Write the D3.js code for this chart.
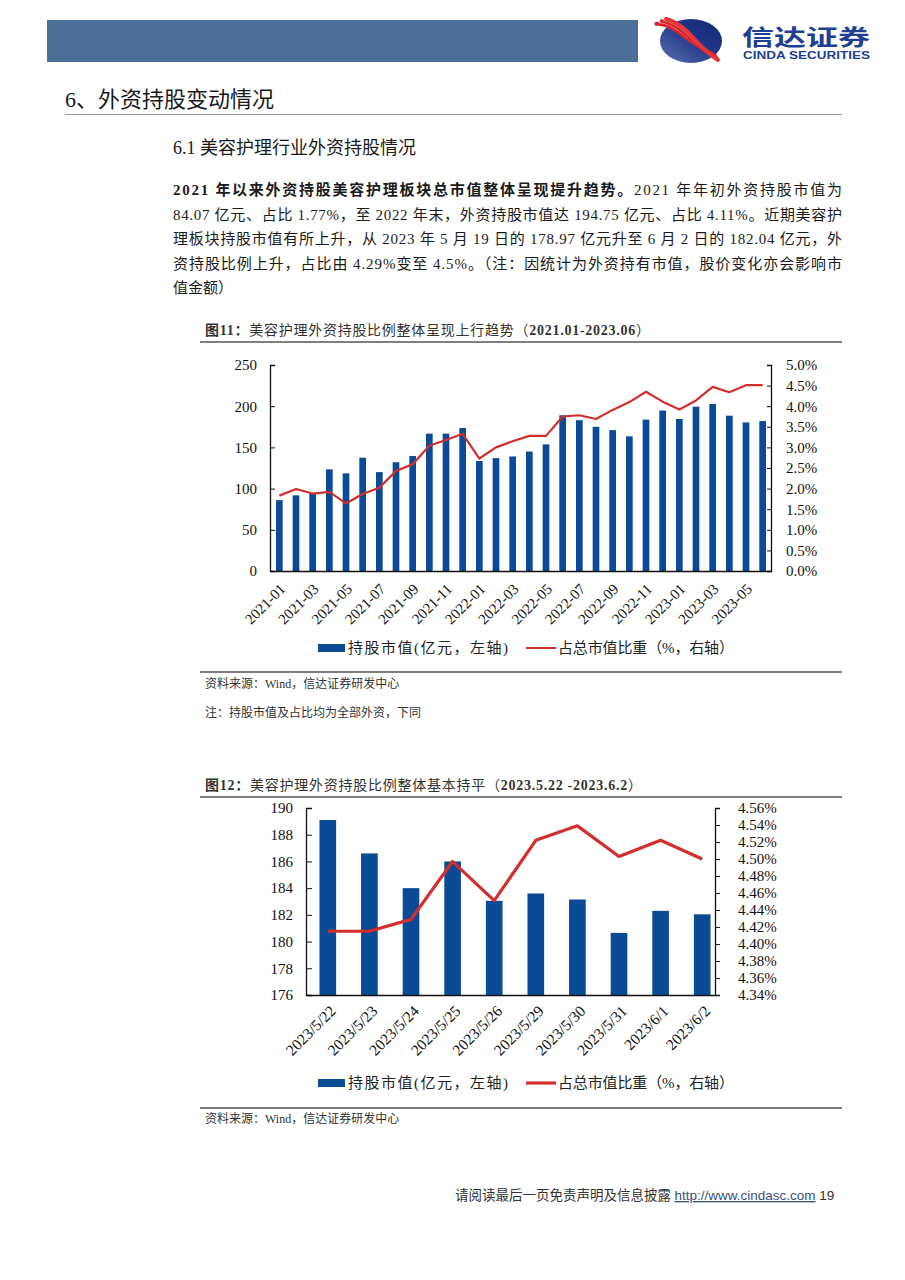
<!DOCTYPE html>
<html><head><meta charset="utf-8">
<script src="https://cdn.jsdelivr.net/npm/d3@7"></script>
<style>
html,body{margin:0;padding:0;background:#fff;}
svg{display:block;}
</style></head>
<body>
<svg id="page" width="905" height="1280"></svg>
<script>
// ---------- DATA ----------
const months = ["2021-01","2021-02","2021-03","2021-04","2021-05","2021-06","2021-07","2021-08","2021-09","2021-10","2021-11","2021-12",
"2022-01","2022-02","2022-03","2022-04","2022-05","2022-06","2022-07","2022-08","2022-09","2022-10","2022-11","2022-12",
"2023-01","2023-02","2023-03","2023-04","2023-05","2023-06"];
const holdValue1 = [86,91.8,94,123.4,118.5,137.5,120,132,139.6,166.7,166.7,173.5,133.5,137,139,145,153.7,189,183,175,171,163.4,183.7,194.75,184.5,199.4,202.7,188.5,180.4,182];
const holdShare1 = [1.83,1.99,1.88,1.92,1.64,1.87,2.02,2.43,2.59,3.04,3.18,3.33,2.73,3.00,3.15,3.28,3.28,3.75,3.78,3.69,3.91,4.10,4.35,4.11,3.92,4.14,4.47,4.34,4.51,4.51];
const leftTicks1 = [0,50,100,150,200,250];
const rightTicks1 = [0,0.5,1,1.5,2,2.5,3,3.5,4,4.5,5];

const days = ["2023/5/22","2023/5/23","2023/5/24","2023/5/25","2023/5/26","2023/5/29","2023/5/30","2023/5/31","2023/6/1","2023/6/2"];
const holdValue2 = [189.1,186.6,184.0,186.0,183.05,183.6,183.15,180.65,182.3,182.04];
const holdShare2 = [4.415,4.415,4.429,4.497,4.451,4.522,4.539,4.503,4.522,4.500];
const leftTicks2 = [176,178,180,182,184,186,188,190];
const rightTicks2 = [4.34,4.36,4.38,4.40,4.42,4.44,4.46,4.48,4.50,4.52,4.54,4.56];

const legendLabels = ["持股市值(亿元，左轴)","占总市值比重（%，右轴）"];

// ---------- STYLE ----------
const BLUE = "#0b4a94", RED = "#d22f2c";
const FONT = "'Liberation Serif','Noto Sans CJK SC',serif";
const svg = d3.select("#page");

// ---------- HEADER ----------
svg.append("rect").attr("x",47).attr("y",20).attr("width",591).attr("height",42).attr("fill","#4b6f98");
const defs = svg.append("defs");
const g1 = defs.append("linearGradient").attr("id","lg").attr("x1","0").attr("y1","1").attr("x2","1").attr("y2","0");
g1.append("stop").attr("offset","0").attr("stop-color","#5a6fb0");
g1.append("stop").attr("offset","0.6").attr("stop-color","#1d3486");
g1.append("stop").attr("offset","1").attr("stop-color","#142a6e");
svg.append("ellipse").attr("cx",691).attr("cy",41).attr("rx",31).attr("ry",22).attr("fill","url(#lg)");
const rib = svg.append("g");
[[-6,"#d8232a"],[-1,"#fff"],[3,"#d8232a"],[7,"#fff"],[10,"#e2363a"]].forEach(([o,c])=>{
  rib.append("path")
    .attr("d",`M${660+o*0.6},${22-o*0.3} C${680+o},${24+o*0.2} ${690+o*0.6},${44+o*0.3} ${716+o*0.2},${57+o*0.3}`)
    .attr("fill","none").attr("stroke",c).attr("stroke-width", c==="#fff"?1.6:4).attr("stroke-linecap","round");
});
svg.append("text").attr("x",742).attr("y",45).attr("font-family","'Noto Sans CJK SC',sans-serif").attr("font-weight",700)
  .attr("font-size",22).attr("fill","#1f3f93").attr("textLength",128).attr("lengthAdjust","spacingAndGlyphs").text("信达证券");
svg.append("text").attr("x",743).attr("y",59).attr("font-family","'Liberation Sans',Arial,sans-serif").attr("font-weight",700)
  .attr("font-size",10.5).attr("fill","#1f3f93").attr("textLength",127).attr("lengthAdjust","spacingAndGlyphs").text("CINDA SECURITIES");

// ---------- HEADINGS & PARAGRAPH ----------
svg.append("text").attr("x",65).attr("y",107).attr("font-family",FONT).attr("font-size",22).attr("fill","#1a1a1a").text("6、外资持股变动情况");
svg.append("line").attr("x1",65).attr("x2",842).attr("y1",114.5).attr("y2",114.5).attr("stroke","#9a9a9a").attr("stroke-width",1);
svg.append("text").attr("x",173).attr("y",154).attr("font-family",FONT).attr("font-size",18).attr("fill","#1a1a1a").text("6.1 美容护理行业外资持股情况");

const para = [
  [["2021 年以来外资持股美容护理板块总市值整体呈现提升趋势。",true],["2021 年年初外资持股市值为",false]],
  [["84.07 亿元、占比 1.77%，至 2022 年末，外资持股市值达 194.75 亿元、占比 4.11%。近期美容护",false]],
  [["理板块持股市值有所上升，从 2023 年 5 月 19 日的 178.97 亿元升至 6 月 2 日的 182.04 亿元，外",false]],
  [["资持股比例上升，占比由 4.29%变至 4.5%。（注：因统计为外资持有市值，股价变化亦会影响市",false]],
  [["值金额）",false]]
];
para.forEach((ln,i)=>{
  const t = svg.append("text").attr("x",173).attr("y",195+i*24.6).attr("font-family",FONT).attr("font-size",15).attr("fill","#1a1a1a");
  if(i<4) t.attr("textLength",669).attr("lengthAdjust","spacing");
  ln.forEach(([s,b])=>t.append("tspan").attr("font-weight",b?700:400).text(s));
});

// ---------- helpers ----------
function title(y, parts, len){
  const t = svg.append("text").attr("x",205).attr("y",y).attr("font-family",FONT).attr("font-size",14).attr("fill","#333")
    .attr("textLength",len).attr("lengthAdjust","spacing");
  parts.forEach(([s,b])=>t.append("tspan").attr("font-weight",b?700:400).text(s));
}
function hline(y,w){ svg.append("line").attr("x1",200).attr("x2",842).attr("y1",y).attr("y2",y).attr("stroke","#555").attr("stroke-width",w||1.3); }
function small(y,s){ svg.append("text").attr("x",205).attr("y",y).attr("font-family",FONT).attr("font-size",12).attr("fill","#333").text(s); }
function legend(y, lw){
  svg.append("rect").attr("x",318).attr("y",y-4).attr("width",27).attr("height",8).attr("fill",BLUE);
  svg.append("text").attr("x",348).attr("y",y+5).attr("font-family",FONT).attr("font-size",15).attr("fill","#222")
    .attr("textLength",160).attr("lengthAdjust","spacing").text(legendLabels[0]);
  svg.append("line").attr("x1",526).attr("x2",556).attr("y1",y).attr("y2",y).attr("stroke",RED).attr("stroke-width",lw);
  svg.append("text").attr("x",558).attr("y",y+5).attr("font-family",FONT).attr("font-size",15).attr("fill","#222")
    .attr("textLength",176).attr("lengthAdjust","spacing").text(legendLabels[1]);
}

// ---------- CHART 1 ----------
title(335,[["图11：",true],["美容护理外资持股比例整体呈现上行趋势（",false],["2021.01-2023.06",true],["）",false]],445);
hline(342);
{
  const x = d3.scaleBand().domain(months).range([271,771]).paddingInner(0.6).paddingOuter(0.3);
  const yL = d3.scaleLinear().domain([0,250]).range([571,365]);
  const yR = d3.scaleLinear().domain([0,5]).range([571,365]);
  const g = svg.append("g");
  g.selectAll("rect.b").data(holdValue1).join("rect")
    .attr("x",(d,i)=>x(months[i])).attr("width",x.bandwidth())
    .attr("y",d=>yL(d)).attr("height",d=>571-yL(d)).attr("fill",BLUE);
  g.append("path").datum(holdShare1)
    .attr("d",d3.line().x((d,i)=>x(months[i])+x.bandwidth()/2).y(d=>yR(d)))
    .attr("fill","none").attr("stroke",RED).attr("stroke-width",2.2).attr("stroke-linejoin","round");
  const gl = svg.append("g").attr("transform","translate(271,0)").call(d3.axisLeft(yL).tickValues(leftTicks1).tickSize(-4).tickPadding(14));
  const gr = svg.append("g").attr("transform","translate(771,0)").call(d3.axisRight(yR).tickValues(rightTicks1).tickSize(-4).tickPadding(15).tickFormat(d=>d3.format(".1f")(d)+"%"));
  [gl,gr].forEach(a=>{a.select(".domain").attr("stroke","#111").attr("stroke-width",1.3);
    a.selectAll(".tick line").attr("stroke","#111");
    a.selectAll("text").attr("font-family",FONT).attr("font-size",15).attr("fill","#111");});
  gr.select(".domain").attr("d","M-4,365.5H0.5V571.5H-4");
  gl.select(".domain").attr("d","M4,365.5H-0.5V571.5H4");
  svg.append("line").attr("x1",271).attr("x2",771).attr("y1",571.5).attr("y2",571.5).attr("stroke","#111").attr("stroke-width",1.3);
  const lab = months.filter((m,i)=>i%2===0);
  svg.append("g").selectAll("text").data(lab).join("text")
    .attr("transform",d=>`translate(${x(d)+x.bandwidth()/2+7},${590}) rotate(-45)`)
    .attr("text-anchor","end").attr("font-family",FONT).attr("font-size",15).attr("fill","#111").text(d=>d);
}
legend(648,2);
hline(672);
small(688,"资料来源：Wind，信达证券研发中心");
small(717,"注：持股市值及占比均为全部外资，下同");

// ---------- CHART 2 ----------
title(790,[["图12：",true],["美容护理外资持股比例整体基本持平（",false],["2023.5.22 -2023.6.2",true],["）",false]],437);
hline(797);
{
  const x = d3.scaleBand().domain(days).range([307,723]).paddingInner(0.6).paddingOuter(0.3);
  const yL = d3.scaleLinear().domain([176,190]).range([995,808]);
  const yR = d3.scaleLinear().domain([4.34,4.56]).range([995,808]);
  const g = svg.append("g");
  g.selectAll("rect").data(holdValue2).join("rect")
    .attr("x",(d,i)=>x(days[i])).attr("width",x.bandwidth())
    .attr("y",d=>yL(d)).attr("height",d=>995-yL(d)).attr("fill",BLUE);
  g.append("path").datum(holdShare2)
    .attr("d",d3.line().x((d,i)=>x(days[i])+x.bandwidth()/2).y(d=>yR(d)))
    .attr("fill","none").attr("stroke",RED).attr("stroke-width",3.2).attr("stroke-linejoin","round");
  const gl = svg.append("g").attr("transform","translate(307,0)").call(d3.axisLeft(yL).tickValues(leftTicks2).tickSize(-5).tickPadding(14));
  const gr = svg.append("g").attr("transform","translate(715,0)").call(d3.axisRight(yR).tickValues(rightTicks2).tickSize(5).tickPadding(18).tickFormat(d=>d3.format(".2f")(d)+"%"));
  [gl,gr].forEach(a=>{a.select(".domain").attr("stroke","#111").attr("stroke-width",1.3);
    a.selectAll(".tick line").attr("stroke","#111");
    a.selectAll("text").attr("font-family",FONT).attr("font-size",15).attr("fill","#111");});
  gl.select(".domain").attr("d","M5,808.5H-0.5V995.5H5");
  gr.select(".domain").attr("d","M5,808.5H0.5V995.5H5");
  svg.append("line").attr("x1",307).attr("x2",715).attr("y1",995.5).attr("y2",995.5).attr("stroke","#111").attr("stroke-width",1.3);
  svg.append("g").selectAll("text").data(days).join("text")
    .attr("transform",d=>`translate(${x(d)+x.bandwidth()/2+9},${1012}) rotate(-45)`)
    .attr("text-anchor","end").attr("font-family",FONT).attr("font-size",15.5).attr("fill","#111").text(d=>d);
}
legend(1083,3.2);
hline(1108);
small(1123,"资料来源：Wind，信达证券研发中心");

// ---------- FOOTER ----------
const ft = svg.append("text").attr("x",455).attr("y",1200).attr("font-family",FONT).attr("font-size",13.5).attr("fill","#333");
ft.append("tspan").text("请阅读最后一页免责声明及信息披露 ");
ft.append("tspan").attr("font-family","'Liberation Sans',Arial,sans-serif").attr("text-decoration","underline").attr("fill","#3a4f7a").text("http://www.cindasc.com");
ft.append("tspan").attr("font-family","'Liberation Sans',Arial,sans-serif").text("  19");
</script>
</body></html>
